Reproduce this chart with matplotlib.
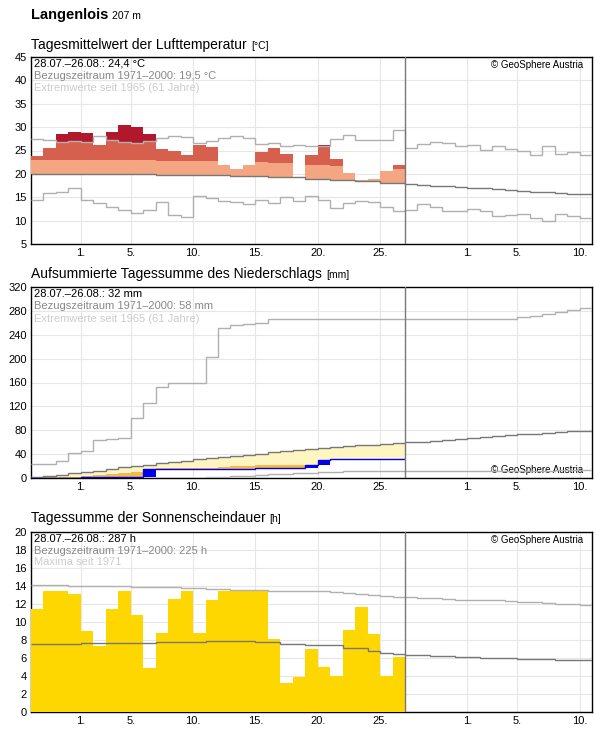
import matplotlib
matplotlib.use("Agg")
import matplotlib.pyplot as plt
import numpy as np

plt.rcParams['font.family'] = ['Liberation Sans', 'DejaVu Sans']

# ---- data (day 0 = 28.07.) ----
tick_pos = [4, 8, 13, 18, 23, 28, 35, 39, 44]
tick_lab = ['1.', '5.', '10.', '15.', '20.', '25.', '1.', '5.', '10.']

temp = [23.8, 25.6, 28.5, 28.9, 28.7, 26.2, 28.9, 30.4, 30.0, 28.5, 25.4, 24.9, 24.0, 26.2, 25.8,
        22.0, 21.0, 21.8, 24.7, 25.6, 24.3, 19.3, 24.0, 26.2, 23.2, 20.1, 18.6, 19.0, 20.7, 21.8]
temp_norm = [20.0]*10 + [19.8]*6 + [19.6]*3 + [19.3]*3 + [19.0]*2 + [18.7]*2 + [18.4]*2 + [18.1]*2 + \
    [17.9, 17.7, 17.5, 17.4, 17.2, 17.0, 16.9, 16.7, 16.5, 16.4, 16.2, 16.1, 15.9, 15.8, 15.7]
temp_max = [27.5, 27.3, 26.9, 27.0, 26.8, 28.0, 27.3, 26.9, 26.5, 27.1, 27.7, 28.2, 27.8, 26.7, 27.0,
            27.6, 28.0, 27.6, 26.3, 26.7, 25.9, 26.2, 25.9, 26.0, 27.4, 28.4, 27.3, 27.3, 27.3, 29.3,
            25.6, 26.3, 26.8, 26.5, 26.0, 26.2, 25.2, 26.0, 25.4, 24.8, 24.0, 26.0, 24.3, 24.6, 24.0]
temp_min = [14.4, 16.0, 16.1, 16.9, 14.4, 13.8, 13.0, 12.2, 11.7, 12.2, 14.0, 11.1, 10.7, 15.3, 14.8,
            14.3, 13.9, 13.5, 14.4, 13.8, 15.1, 14.1, 15.2, 14.4, 12.6, 13.7, 14.3, 14.0, 12.9, 12.1,
            12.2, 13.5, 13.0, 12.0, 12.0, 12.5, 12.0, 11.0, 11.3, 11.5, 10.5, 10.0, 11.5, 11.0, 10.5]

prec_cum = [0, 0, 0, 0, 1, 1, 1.5, 1.5, 2, 15.5, 15.5, 15.5, 15.5, 15.5, 15.5, 15.5, 15.5, 15.5,
            16, 16, 16.5, 17, 22, 30.5, 31, 31, 31, 31, 32, 32]
prec_orange = [0.5, 1, 1.5, 2.5, 3.5, 4.5, 6, 8, 10, None, 16, 16.5, 16.5, 17, 17.5, 18, 20, 20, 21, 22,
               22, 22, None, None, None, None, None, None, None, None]
prec_norm = [1, 3, 5.5, 8, 10, 12.5, 15, 18, 20.5, 22.5, 24.5, 27, 29, 31, 33, 35, 37, 39, 41, 43,
             45, 47, 48.5, 50, 51.5, 53, 54.5, 56, 57, 58,
             59.5, 61, 62.5, 64, 65.5, 67, 68.5, 70, 71.5, 73, 74.5, 76, 77, 78, 79]
prec_max = [23, 23, 28, 42, 45, 63, 66, 67, 100, 126, 152, 159, 159, 159, 203, 252, 256, 258, 259, 267,
            267, 267, 267, 267, 267, 267, 267, 267, 267, 267,
            267, 267, 267, 267, 267, 267, 267, 267, 267, 270, 272, 275, 278, 281, 284]
prec_min = [0]*14 + [1, 2, 3, 4, 5, 6, 7, 8, 9, 10, 10, 11, 11, 11, 11, 11,
                     11, 11, 11, 11, 11, 11, 12, 12, 12, 12, 12, 12, 13, 13, 13]

sun = [11.5, 13.4, 13.5, 13.1, 9.0, 7.3, 11.4, 13.5, 10.8, 4.9, 8.8, 12.6, 13.5, 8.8, 12.5,
       13.5, 13.6, 13.6, 13.6, 8.1, 3.2, 3.9, 7.0, 5.0, 4.0, 9.1, 11.7, 8.7, 4.0, 6.1]
sun_norm = [7.6]*4 + [7.7]*6 + [7.8]*4 + [7.9]*4 + [7.8]*2 + [7.6]*2 + [7.4]*3 + [7.1]*2 + [6.8, 6.6, 6.4] + \
    [6.3, 6.3, 6.2, 6.2, 6.1, 6.1, 6.0, 6.0, 6.0, 5.9, 5.9, 5.9, 5.8, 5.8, 5.8]
sun_max = [14.1, 14.1, 14.1, 14.0, 14.0, 14.0, 14.0, 14.0, 13.9, 13.9, 13.9, 13.9, 13.8, 13.8, 13.7,
           13.7, 13.6, 13.6, 13.6, 13.5, 13.5, 13.4, 13.4, 13.4, 13.3, 13.2, 13.1, 13.0, 12.9, 12.8,
           12.8, 12.7, 12.7, 12.6, 12.5, 12.5, 12.4, 12.4, 12.3, 12.2, 12.2, 12.1, 12.0, 12.0, 11.9]

N = 30
NE = 45
W, H = 596, 729
fig = plt.figure(figsize=(W/100, H/100), dpi=100)

def mkax(top, bot):
    ax = fig.add_axes([31/W, 1-bot/H, (592-31)/W, (bot-top)/H])
    ax.set_xlim(0, NE)
    ax.set_xticks(tick_pos)
    ax.set_xticklabels(tick_lab)
    ax.tick_params(length=0, labelsize=8, pad=3)
    ax.grid(color='#e6e6e6', lw=0.8)
    ax.set_axisbelow(True)
    for s in ax.spines.values():
        s.set_color('black'); s.set_linewidth(1)
    ax.axvline(N, color='#777777', lw=1, zorder=5)
    return ax

def stepline(ax, vals, color, lw=1):
    x = np.arange(len(vals)+1)
    ax.stairs(vals, x, color=color, lw=lw, baseline=None, zorder=4)

def info(ax, l1, l2, l3):
    ax.text(0.005, 0.99, l1, transform=ax.transAxes, va='top', fontsize=8, color='black')
    ax.text(0.005, 0.925, l2, transform=ax.transAxes, va='top', fontsize=8, color='#888888')
    ax.text(0.005, 0.86, l3, transform=ax.transAxes, va='top', fontsize=8, color='#cccccc')

def title(y, main, unit, bold=False, size=10):
    t = fig.text(31/W, 1-y/H, main, fontsize=size, va='baseline',
                 fontweight='bold' if bold else 'normal')
    fig.canvas.draw()
    bb = t.get_window_extent()
    fig.text((bb.x1 + 4)/W, 1-y/H, unit, fontsize=7.5, va='baseline')

title(19, 'Langenlois', '207 m', bold=True, size=10.5)
title(49, 'Tagesmittelwert der Lufttemperatur', '[°C]')
title(278, 'Aufsummierte Tagessumme des Niederschlags', '[mm]')
title(522, 'Tagessumme der Sonnenscheindauer', '[h]')

# ---- Temperature ----
ax1 = mkax(57, 244)
ax1.set_ylim(5, 45)
ax1.set_yticks(range(5, 46, 5))
x = np.arange(N)
for i in range(N):
    v, n, mx = temp[i], temp_norm[i], temp_max[i]
    if v < n:
        ax1.bar(i, n-v, bottom=v, width=1, align='edge', color='#7fbfdf', zorder=3)
        continue
    b1 = min(v, n+3)
    ax1.bar(i, b1-n, bottom=n, width=1, align='edge', color='#f4a582', zorder=3)
    if v > n+3:
        t2 = min(v, mx)
        if t2 > n+3:
            ax1.bar(i, t2-(n+3), bottom=n+3, width=1, align='edge', color='#d6604d', zorder=3)
    if v > mx:
        lo = max(mx, n+3)
        ax1.bar(i, v-lo, bottom=lo, width=1, align='edge', color='#b2182b', zorder=3)
stepline(ax1, temp_max, '#b0b0b0')
stepline(ax1, temp_min, '#b0b0b0')
stepline(ax1, temp_norm, '#777777')
info(ax1, '28.07.–26.08.: 24,4 °C', 'Bezugszeitraum 1971–2000: 19,5 °C', 'Extremwerte seit 1965 (61 Jahre)')
ax1.text(0.985, 0.985, '© GeoSphere Austria', transform=ax1.transAxes, ha='right', va='top', fontsize=7)

# ---- Precipitation ----
ax2 = mkax(287, 478)
ax2.set_ylim(0, 320)
ax2.set_yticks(range(0, 321, 40))
prev = 0
for i in range(N):
    c, n = prec_cum[i], prec_norm[i]
    if n > c:
        ax2.bar(i, n-c, bottom=c, width=1, align='edge', color='#fff5c0', zorder=2)
    o = prec_orange[i]
    if o is not None and o > c:
        ax2.bar(i, o-c, bottom=c, width=1, align='edge', color='#f9b84a', zorder=2.5)
    if c - prev > 0:
        ax2.bar(i, c-prev, bottom=prev, width=1, align='edge', color='#0000ee', zorder=3)
    prev = c
stepline(ax2, prec_max, '#b0b0b0')
stepline(ax2, prec_min, '#b0b0b0')
stepline(ax2, prec_norm, '#777777')
stepline(ax2, prec_cum, '#0000ee')
info(ax2, '28.07.–26.08.: 32 mm', 'Bezugszeitraum 1971–2000: 58 mm', 'Extremwerte seit 1965 (61 Jahre)')
ax2.text(0.985, 0.015, '© GeoSphere Austria', transform=ax2.transAxes, ha='right', va='bottom', fontsize=7)

# ---- Sunshine ----
ax3 = mkax(532, 712)
ax3.set_ylim(0, 20)
ax3.set_yticks(range(0, 21, 2))
ax3.bar(x, sun, width=1, align='edge', color='#ffd700', zorder=3)
stepline(ax3, sun_max, '#b0b0b0')
stepline(ax3, sun_norm, '#777777')
info(ax3, '28.07.–26.08.: 287 h', 'Bezugszeitraum 1971–2000: 225 h', 'Maxima seit 1971')
ax3.text(0.985, 0.985, '© GeoSphere Austria', transform=ax3.transAxes, ha='right', va='top', fontsize=7)

fig.savefig('out.png', dpi=100)
